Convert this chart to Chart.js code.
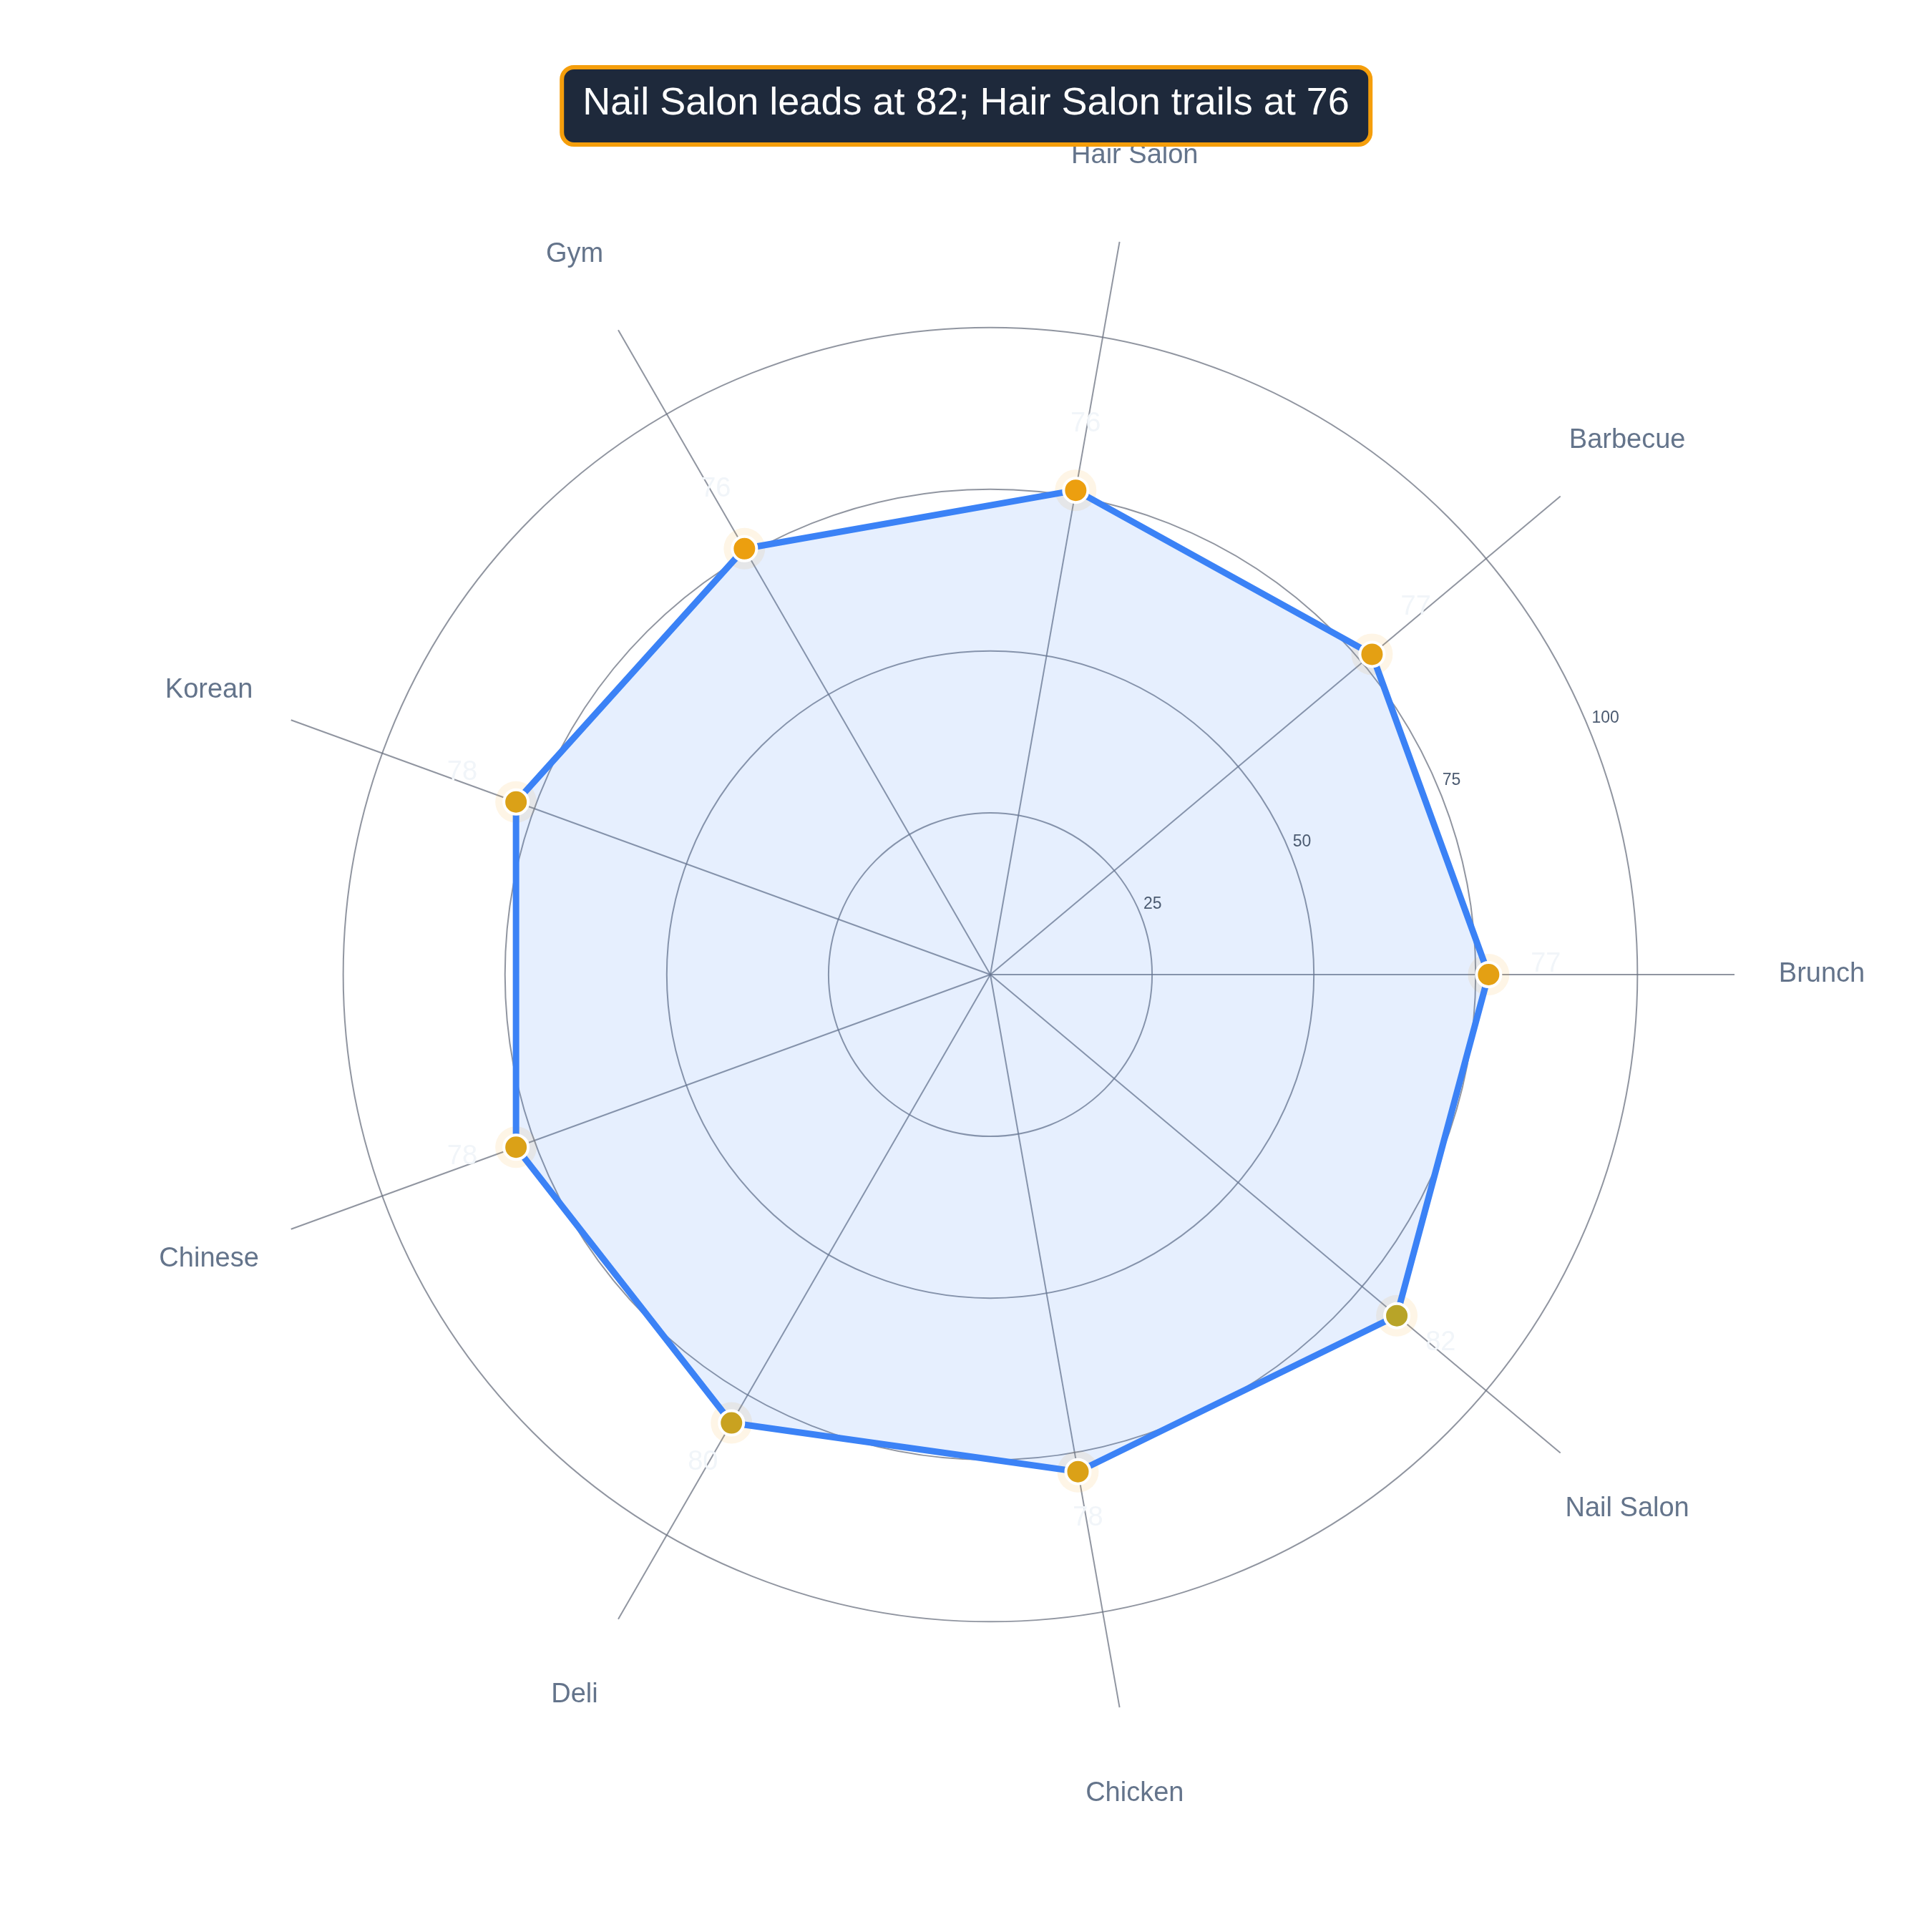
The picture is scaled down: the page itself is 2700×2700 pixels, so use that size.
<!DOCTYPE html>
<html>
<head>
<meta charset="utf-8">
<title>Category scores radar</title>
<script src="https://cdn.jsdelivr.net/npm/chart.js@4.4.1/dist/chart.umd.min.js"></script>
<style>
  html, body { margin: 0; padding: 0; background: #ffffff; }
  #wrap { position: relative; width: 2700px; height: 2700px; }
  #chart { position: absolute; left: 0; top: 0; }
  #title {
    position: absolute; top: 91px; left: 50%; transform: translateX(-50%);
    box-sizing: border-box; height: 114px;
    padding: 13px 26px 0; line-height: 89px;
    background: #1e293b; color: #ffffff;
    border: 6px solid #f59e0b; border-radius: 20px;
    font: 54px "Liberation Sans", Arial, sans-serif;
    white-space: nowrap;
  }
</style>
</head>
<body>
<div id="wrap">
  <canvas id="chart" width="2700" height="2700"></canvas>
  <div id="title">Nail Salon leads at 82; Hair Salon trails at 76</div>
</div>
<script>
// === DATA (counter-clockwise from the right, as in the picture)
const categories = ['Brunch', 'Barbecue', 'Hair Salon', 'Gym', 'Korean', 'Chinese', 'Deli', 'Chicken', 'Nail Salon'];
const scores = [77, 77, 76, 76, 78, 78, 80, 78, 82];
const tickValues = [25, 50, 75, 100];

// Chart.js walks clockwise, so keep the first item and reverse the rest
const order = [0, ...categories.map((_, i) => i).slice(1).reverse()];
const labels = order.map(i => categories[i]);
const values = order.map(i => scores[i]);

const FONT = '"Liberation Sans", Arial, sans-serif';

// orange for low scores, olive for the top one
function colorFor(v) {
  const lo = [245, 158, 11], hi = [184, 164, 40];
  const t = Math.max(0, Math.min(1, (v - 75) / 7));
  const c = lo.map((a, k) => Math.round(a + (hi[k] - a) * t));
  return `rgb(${c[0]},${c[1]},${c[2]})`;
}

// ====== labels drawn on the radial scale (ticks, categories, values)
const overlayLabels = {
  id: 'overlayLabels',
  afterDraw(chart) {
    const r = chart.scales.r;
    const ctx = chart.ctx;
    ctx.save();

    // tick labels along a tilted radial axis
    const a = 22.5 * Math.PI / 180;
    ctx.font = `23px ${FONT}`;
    ctx.fillStyle = '#4b5a70';
    ctx.textAlign = 'left';
    ctx.textBaseline = 'middle';
    tickValues.forEach(v => {
      const d = r.getDistanceFromCenterForValue(v);
      ctx.fillText(String(v), r.xCenter + Math.cos(a) * d + 5, r.yCenter - Math.sin(a) * d - 12);
    });

    // category labels
    ctx.font = `38px ${FONT}`;
    ctx.fillStyle = '#64748b';
    ctx.textAlign = 'center';
    labels.forEach((lab, i) => {
      const p = r.getPointPosition(i, r.drawingArea + 122);
      ctx.fillText(lab, p.x, p.y);
    });

    // faint value labels just outside each point
    ctx.font = `38px ${FONT}`;
    ctx.fillStyle = '#f1f5f9';
    values.forEach((v, i) => {
      const p = r.getPointPosition(i, r.getDistanceFromCenterForValue(v) + 80);
      ctx.fillText(String(v), p.x, p.y - 14);
    });

    ctx.restore();
  }
};

new Chart(document.getElementById('chart'), {
  type: 'radar',
  data: {
    labels,
    datasets: [
      {
        data: values,
        order: 0,
        borderColor: '#3b82f6',
        borderWidth: 9,
        backgroundColor: 'rgba(59,130,246,0.13)',
        fill: true,
        tension: 0,
        pointRadius: 17,
        pointBorderWidth: 4,
        pointBorderColor: '#ffffff',
        pointBackgroundColor: values.map(colorFor)
      },
      {
        // soft halo behind each marker
        data: values,
        order: 1,
        showLine: false,
        fill: false,
        borderColor: 'transparent',
        borderWidth: 0,
        pointRadius: 29,
        pointBorderWidth: 0,
        pointBackgroundColor: 'rgba(245,158,11,0.1)'
      }
    ]
  },
  options: {
    responsive: false,
    devicePixelRatio: 1,
    animation: false,
    layout: { padding: { left: 344, right: 276, top: 322, bottom: 298 } },
    plugins: { legend: { display: false }, tooltip: { enabled: false } },
    scales: {
      r: {
        min: 0,
        max: 115,
        startAngle: 90,
        ticks: { display: false, stepSize: 25 },
        afterBuildTicks: s => { s.ticks = s.ticks.filter(t => t.value <= 100); },
        grid: { circular: true, color: 'rgba(107,114,128,0.75)', lineWidth: 2 },
        angleLines: { color: 'rgba(107,114,128,0.75)', lineWidth: 2 },
        pointLabels: { display: false }
      }
    }
  },
  plugins: [overlayLabels]
});
</script>
</body>
</html>
